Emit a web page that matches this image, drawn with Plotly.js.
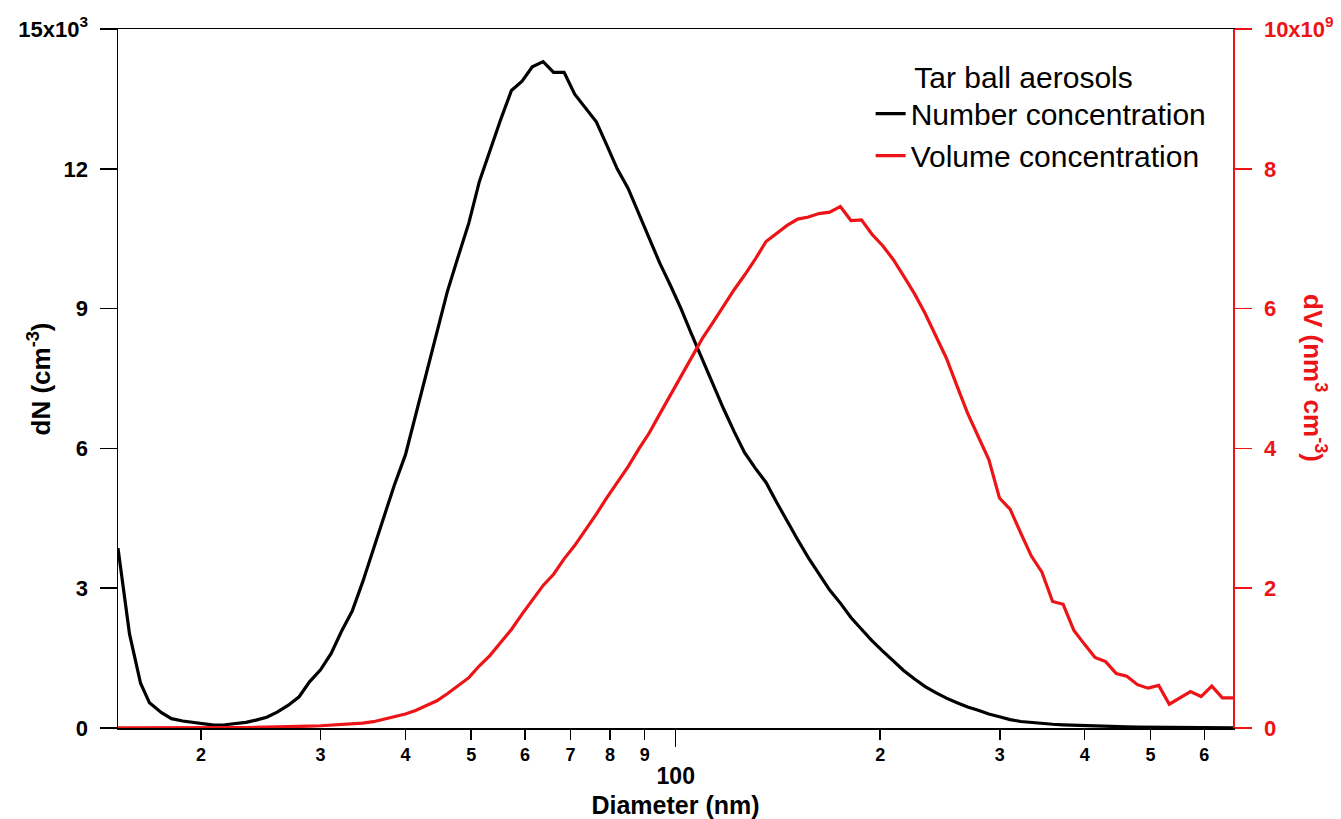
<!DOCTYPE html>
<html><head><meta charset="utf-8">
<script src="https://cdn.plot.ly/plotly-3.0.1.min.js"></script>
<style>html,body{margin:0;padding:0;background:#fff}#chart{width:1341px;height:819px}</style>
</head><body><div id="chart"></div>
<script>
// Particle diameter (nm), SMPS size-bin midpoints
const diameter = [15.1, 15.7, 16.3, 16.8, 17.5, 18.1, 18.8, 19.5, 20.2, 20.9, 21.7, 22.5, 23.3, 24.1, 25.0, 25.9, 26.9, 27.9, 28.9, 30.0,
  31.1, 32.2, 33.4, 34.6, 35.9, 37.2, 38.5, 40.0, 41.4, 42.9, 44.5, 46.1, 47.8, 49.6, 51.4, 53.3, 55.2, 57.3, 59.4, 61.5,
  63.8, 66.1, 68.5, 71.0, 73.7, 76.4, 79.1, 82.0, 85.1, 88.2, 91.4, 94.7, 98.2, 101.8, 105.5, 109.4, 113.4, 117.6, 121.9, 126.3,
  131.0, 135.8, 140.7, 145.9, 151.2, 156.8, 162.5, 168.5, 174.7, 181.1, 187.7, 194.6, 201.7, 209.1, 216.7, 224.7, 232.9, 241.4, 250.3, 259.5,
  269.0, 278.8, 289.0, 299.6, 310.6, 322.0, 333.8, 346.0, 358.7, 371.8, 385.4, 399.5, 414.2, 429.4, 445.1, 461.4, 478.3, 495.8, 514.0, 532.8,
  552.3, 572.5, 593.5, 615.3, 637.8, 661.2];

// dN (cm^-3)
const numberConc = [3860, 2020, 960, 540, 330, 200, 150, 120, 80, 60, 70, 90, 120, 170, 230, 340, 490, 670, 990, 1250,
  1600, 2070, 2510, 3130, 3840, 4530, 5200, 5860, 6720, 7540, 8480, 9360, 10100, 10840, 11730, 12420, 13040, 13680, 13880, 14190,
  14300, 14070, 14070, 13600, 13300, 13010, 12520, 12000, 11580, 11040, 10520, 9980, 9500, 9000, 8450, 7910, 7390, 6850, 6360, 5910,
  5570, 5270, 4850, 4430, 4040, 3650, 3300, 2960, 2680, 2370, 2120, 1870, 1650, 1430, 1230, 1050, 890, 760, 640, 540,
  450, 380, 300, 240, 180, 140, 115, 95, 80, 68, 58, 48, 40, 34, 29, 24, 20, 17, 14, 12,
  10, 8, 7, 6, 5, 4];

// dV (nm^3 cm^-3)
const volumeConc = [0.003e9, 0.002e9, 0.002e9, 0.002e9, 0.002e9, 0.002e9, 0.002e9, 0.002e9, 0.002e9, 0.002e9,
  0.003e9, 0.004e9, 0.005e9, 0.007e9, 0.010e9, 0.012e9, 0.015e9, 0.020e9, 0.026e9, 0.032e9,
  0.040e9, 0.046e9, 0.060e9, 0.070e9, 0.090e9, 0.125e9, 0.16e9, 0.20e9, 0.25e9, 0.32e9,
  0.39e9, 0.49e9, 0.60e9, 0.72e9, 0.89e9, 1.04e9, 1.22e9, 1.41e9, 1.63e9, 1.83e9,
  2.04e9, 2.20e9, 2.42e9, 2.61e9, 2.83e9, 3.06e9, 3.29e9, 3.52e9, 3.74e9, 3.99e9,
  4.22e9, 4.49e9, 4.76e9, 5.05e9, 5.31e9, 5.57e9, 5.80e9, 6.04e9, 6.27e9, 6.48e9,
  6.71e9, 6.96e9, 7.08e9, 7.19e9, 7.28e9, 7.31e9, 7.36e9, 7.38e9, 7.46e9, 7.26e9,
  7.27e9, 7.06e9, 6.90e9, 6.70e9, 6.46e9, 6.21e9, 5.93e9, 5.60e9, 5.29e9, 4.89e9,
  4.50e9, 4.17e9, 3.84e9, 3.29e9, 3.13e9, 2.79e9, 2.46e9, 2.23e9, 1.81e9, 1.77e9,
  1.40e9, 1.20e9, 1.01e9, 0.95e9, 0.78e9, 0.74e9, 0.62e9, 0.57e9, 0.61e9, 0.34e9,
  0.43e9, 0.52e9, 0.45e9, 0.60e9, 0.43e9, 0.43e9];

const seriesNames = ["Number concentration", "Volume concentration"];
const legendTitle = "Tar ball aerosols";

const xMinorTickVals = [20, 30, 40, 50, 60, 70, 80, 90, 200, 300, 400, 500, 600];
const xMinorTickText = ["2", "3", "4", "5", "6", "7", "8", "9", "2", "3", "4", "5", "6"];
const xMajorTickVals = [100];
const xMajorTickText = ["100"];
const yLeftTickVals = [0, 3000, 6000, 9000, 12000, 15000];
const yLeftTickText = ["0", "3", "6", "9", "12", "15x10<sup>3</sup>"];
const yRightTickVals = [0, 2e9, 4e9, 6e9, 8e9, 10e9];
const yRightTickText = ["0", "2", "4", "6", "8", "10x10<sup>9</sup>"];

const FONT = "Arial, 'Liberation Sans', sans-serif";
const RED = "rgb(236,20,22)";
const xRange = [Math.log10(diameter[0]), Math.log10(diameter[diameter.length - 1])];

const traces = [
  {x: diameter, y: numberConc, type: "scatter", mode: "lines", name: seriesNames[0],
   xaxis: "x", yaxis: "y", line: {color: "black", width: 3.2}},
  {x: diameter, y: volumeConc, type: "scatter", mode: "lines", name: seriesNames[1],
   xaxis: "x2", yaxis: "y2", line: {color: RED, width: 3.2}}
];

const layout = {
  width: 1341, height: 819,
  margin: {l: 118, r: 108, t: 29, b: 91},
  paper_bgcolor: "white", plot_bgcolor: "white",
  font: {family: FONT, color: "black"},
  showlegend: true,
  legend: {
    x: 0.675, y: 0.972, xanchor: "left", yanchor: "top",
    bgcolor: "rgba(0,0,0,0)", borderwidth: 0,
    font: {family: FONT, size: 30, color: "black"},
    title: {text: "&nbsp;&nbsp;&nbsp;&nbsp;&nbsp;" + legendTitle, font: {family: FONT, size: 30, color: "black"}},
    itemwidth: 30, tracegroupgap: 0
  },
  xaxis: {
    type: "log", range: xRange, autorange: false, tickmode: "array",
    tickvals: xMinorTickVals, ticktext: xMinorTickText,
    ticks: "outside", ticklen: 10, tickwidth: 1.5, tickcolor: "black",
    showline: true, linecolor: "black", linewidth: 1.5, mirror: true,
    showgrid: false, zeroline: false,
    tickfont: {family: FONT, size: 18, color: "black", weight: "bold"},
    title: {text: "Diameter (nm)", font: {family: FONT, size: 25, color: "black", weight: "bold"}, standoff: 33}
  },
  xaxis2: {
    type: "log", range: xRange, autorange: false, overlaying: "x", anchor: "y", side: "bottom",
    tickmode: "array", tickvals: xMajorTickVals, ticktext: xMajorTickText,
    ticks: "outside", ticklen: 18, tickwidth: 1.5, tickcolor: "black",
    showline: false, showgrid: false, zeroline: false,
    ticklabelstandoff: 9,
    tickfont: {family: FONT, size: 23, color: "black", weight: "bold"}
  },
  yaxis: {
    range: [0, 15000], tickmode: "array", tickvals: yLeftTickVals, ticktext: yLeftTickText,
    ticks: "outside", ticklen: 17, tickwidth: 1.5, tickcolor: "black",
    showline: true, linecolor: "black", linewidth: 1.5,
    showgrid: false, zeroline: false, ticklabelstandoff: 7,
    tickfont: {family: FONT, size: 22, color: "black", weight: "bold"}
  },
  yaxis2: {
    range: [0, 10e9], overlaying: "y", side: "right", anchor: "x",
    tickmode: "array", tickvals: yRightTickVals, ticktext: yRightTickText,
    ticks: "outside", ticklen: 17, tickwidth: 1.5, tickcolor: RED,
    showline: true, linecolor: RED, linewidth: 1.5,
    showgrid: false, zeroline: false, ticklabelstandoff: 8,
    tickfont: {family: FONT, size: 22, color: RED, weight: "bold"}
  },
  annotations: [
    {text: "dN (cm<sup>-3</sup>)", xref: "paper", yref: "paper", x: -0.07, y: 0.5,
     xanchor: "center", yanchor: "middle", textangle: -90, showarrow: false,
     font: {family: FONT, size: 26, color: "black", weight: "bold"}},
    {text: "dV (nm<sup>3</sup> cm<sup>-3</sup>)", xref: "paper", yref: "paper", x: 1.073, y: 0.5,
     xanchor: "center", yanchor: "middle", textangle: 90, showarrow: false,
     font: {family: FONT, size: 26, color: RED, weight: "bold"}}
  ]
};

Plotly.newPlot("chart", traces, layout, {displayModeBar: false, staticPlot: true});
</script>
</body></html>
